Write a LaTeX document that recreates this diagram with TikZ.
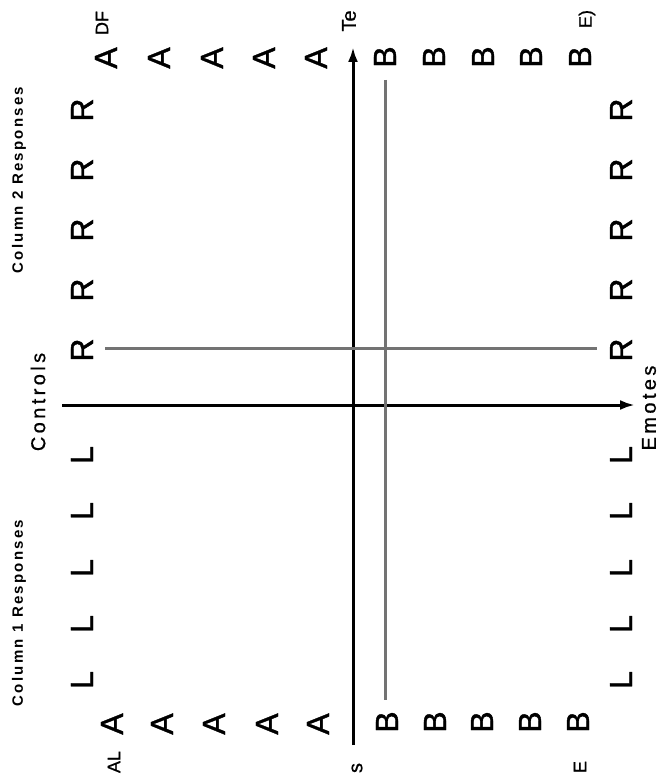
\documentclass[tikz,border=0pt]{standalone}
\usepackage{fontspec}
\setmainfont{Liberation Sans}
\newfontfamily\letterfont[FakeBold=1.2]{Liberation Sans}
\newfontfamily\headfont[LetterSpace=15]{Liberation Sans}
\newfontfamily\axisfont[LetterSpace=17,FakeBold=0.8]{Liberation Sans}
\newfontfamily\edgefont[FakeBold=0.8]{Liberation Sans}
\usetikzlibrary{arrows.meta}
\tikzset{
  bigletter/.style={rotate=90, inner sep=0pt, font=\letterfont\fontsize{32}{32}\selectfont},
  colhead/.style={rotate=90, inner sep=0pt, font=\headfont\bfseries\fontsize{15}{15}\selectfont},
  axislabel/.style={rotate=90, inner sep=0pt, font=\axisfont\fontsize{20}{20}\selectfont},
  edgelabel/.style={rotate=90, inner sep=0pt, font=\edgefont\fontsize{18}{18}\selectfont},
  axisline/.style={line width=3pt, black, -{Latex[length=15pt,width=10pt]}},
  greyline/.style={line width=3pt, color=black!55},
}
\begin{document}
\begin{tikzpicture}[x=1pt,y=-1pt]
\useasboundingbox (0,0) rectangle (660,778);
\fill[white] (0,0) rectangle (660,778);

% column headings
\node[colhead] (col2) at (19,180) {Column 2 Responses};
\node[colhead] (col1) at (19,613) {Column 1 Responses};
\node[axislabel] (controls) at (38,402) {Controls};
\node[axislabel] (emotes) at (649,408) {Emotes};

% top row (left side of page): R and L
\foreach \y [count=\i] in {110,170,230,290,350}
  \node[bigletter] (RT\i) at (82,\y) {R};
\foreach \y [count=\i] in {455,511,568,624,680}
  \node[bigletter] (LT\i) at (82,\y) {L};
% bottom row (right side of page)
\foreach \y [count=\i] in {110,170,230,290,350}
  \node[bigletter] (RB\i) at (621,\y) {R};
\foreach \y [count=\i] in {455,511,568,624,680}
  \node[bigletter] (LB\i) at (621,\y) {L};
% A and B rows at the top
\foreach \x [count=\i] in {106,159,212,264,316}
  \node[bigletter] (AT\i) at (\x,58) {A};
\foreach \x [count=\i] in {385,434,483,531,580}
  \node[bigletter] (BT\i) at (\x,57) {B};
% A and B rows at the bottom
\foreach \x [count=\i] in {112,162,214,267,318}
  \node[bigletter] (AB\i) at (\x,724) {A};
\foreach \x [count=\i] in {387,435,482,530,578}
  \node[bigletter] (BB\i) at (\x,722) {B};

% edge labels
\node[edgelabel] (df) at (102,23) {DF};
\node[edgelabel, font=\edgefont\fontsize{20}{20}\selectfont] (te) at (349,21) {Te};
\node[edgelabel] (ex) at (587,19) {E)};
\node[edgelabel] (al) at (114,762) {AL};
\node[edgelabel, font=\edgefont\fontsize{20}{20}\selectfont] (s) at (357,768) {s};
\node[edgelabel] (e) at (580,767) {E};

% axes
\coordinate (vbot) at (353,745);
\coordinate (vtop) at (353,47);
\coordinate (hleft) at (62,405);
\coordinate (hright) at (635,405);
\draw[axisline] (vbot) -- (vtop);
\draw[axisline] (hleft) -- (hright);

% grey split lines
\coordinate (gvtop) at (385,80);
\coordinate (gvbot) at (385,700);
\coordinate (ghleft) at (105,348);
\coordinate (ghright) at (597,348);
\draw[greyline] (gvtop) -- (gvbot);
\draw[greyline] (ghleft) -- (ghright);
\end{tikzpicture}
\end{document}
